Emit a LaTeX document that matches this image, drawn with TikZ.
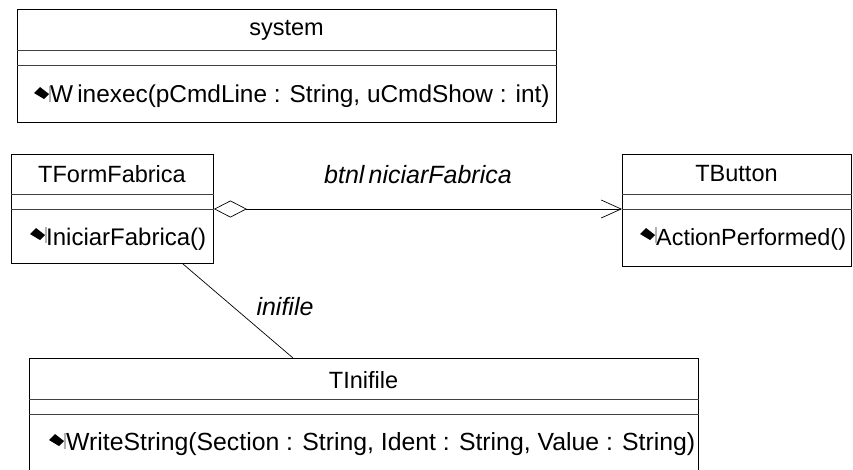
\documentclass[tikz,border=0pt]{standalone}
\usepackage{fontspec}
\setmainfont{Liberation Sans}
\usetikzlibrary{arrows.meta,calc}
\begin{document}
\begin{tikzpicture}[x=1pt,y=-1pt,
  classbox/.style={draw=black,line width=0.9pt,rectangle,anchor=north west,inner sep=0pt},
  divider/.style={draw=black!75,line width=0.9pt},
  txt/.style={font=\fontsize{23.5}{26}\selectfont,inner sep=0pt},
  optxt/.style={font=\fontsize{24.8}{27}\selectfont,inner sep=0pt,anchor=west},
  lbl/.style={font=\fontsize{25}{27}\selectfont\itshape,inner sep=0pt},
  conn/.style={draw=black,line width=0.7pt}]
\useasboundingbox (0,0) rectangle (853,469);
\newcommand{\opicon}[2]{%
  \fill[black] (#1,#2) -- (#1+6,#2-6) -- (#1+15,#2+1) -- (#1+10,#2+6) -- cycle;
  \draw[black!30,line width=1.2pt] (#1+16,#2-7) -- (#1+16,#2+9);}
% system
\node[classbox,minimum width=539pt,minimum height=113pt] (sys) at (17,9) {};
\node[txt] (systitle) at (286.5,30) {system};
\draw[divider] (sys.west |- 0,50) -- (sys.east |- 0,50);
\draw[divider] (sys.west |- 0,65) -- (sys.east |- 0,65);
\opicon{34}{93}
\node[optxt,font=\fontsize{24.4}{27}\selectfont] (sysop) at (50,96) {W\,inexec(pCmdLine : String, uCmdShow : int)};
% TFormFabrica
\node[classbox,minimum width=202pt,minimum height=109pt] (ff) at (11,154) {};
\node[txt] (fftitle) at (112,174) {TFormFabrica};
\draw[divider] (ff.west |- 0,194) -- (ff.east |- 0,194);
\draw[divider] (ff.west |- 0,209) -- (ff.east |- 0,209);
\opicon{30}{234}
\node[optxt,font=\fontsize{24}{27}\selectfont] (ffop) at (46,239) {IniciarFabrica()};
% TButton
\node[classbox,minimum width=229pt,minimum height=112pt] (tb) at (622,154) {};
\node[txt] (tbtitle) at (736.5,174) {TButton};
\draw[divider] (tb.west |- 0,194) -- (tb.east |- 0,194);
\draw[divider] (tb.west |- 0,209) -- (tb.east |- 0,209);
\opicon{640}{234}
\node[optxt,font=\fontsize{23.4}{27}\selectfont] (tbop) at (656,239) {ActionPerformed()};
% TInifile
\begin{scope}
\clip (0,0) rectangle (853,469);
\node[classbox,minimum width=669pt,minimum height=130pt] (ini) at (29,358) {};
\end{scope}
\node[txt] (inititle) at (363.5,380) {TInifile};
\draw[divider] (ini.west |- 0,399) -- (ini.east |- 0,399);
\draw[divider] (ini.west |- 0,414) -- (ini.east |- 0,414);
\opicon{49}{440}
\node[optxt] (iniop) at (66,444) {WriteString(Section : String, Ident : String, Value : String)};
% connectors
\draw[conn,{Diamond[open,length=33pt,width=17pt,line width=0.7pt]}-{Straight Barb[length=20pt,width=18pt,line width=0.7pt]}]
  (ff.east |- 0,209) -- (tb.west |- 0,209);
\node[lbl] (agglbl) at (418,175) {btnl\,niciarFabrica};
\draw[conn] ([xshift=-31pt]ff.south east) -- ([xshift=264pt]ini.north west);
\node[lbl] (asslbl) at (285,307) {inifile};
\end{tikzpicture}
\end{document}
